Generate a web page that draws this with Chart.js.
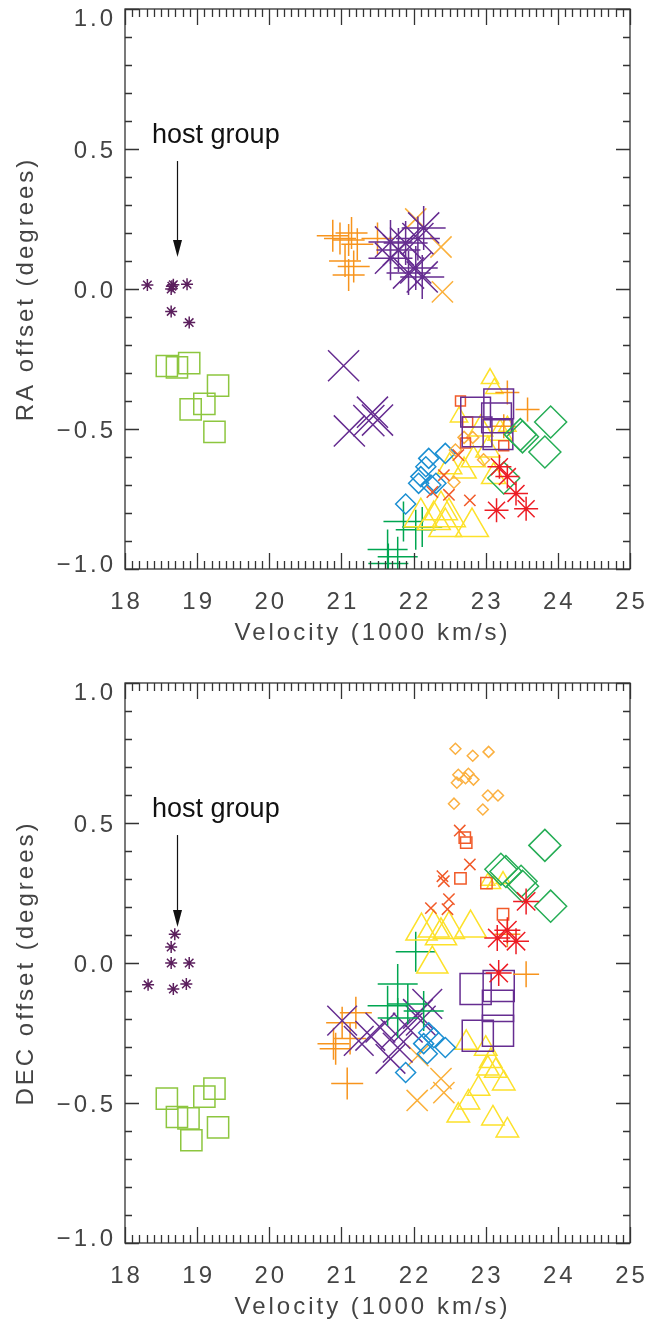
<!DOCTYPE html>
<html>
<head>
<meta charset="utf-8">
<script src="https://cdn.jsdelivr.net/npm/chart.js@4.4.1/dist/chart.umd.min.js"></script>
<style>
  body { margin: 0; background: #fff; }
  canvas { position: absolute; left: 0; }
  #raChart { top: 0; }
  #decChart { top: 674px; }
</style>
</head>
<body>
<canvas id="raChart" width="649" height="674"></canvas>
<canvas id="decChart" width="649" height="645"></canvas>
<script>
// velocities in 1000 km/s, offsets in degrees

// --- RA panel ---
const raHostStarVel = [18.31, 18.65, 18.67, 18.64, 18.86, 18.64, 18.89];
const raHostStarOff = [0.014, 0.01, 0.015, 0.0, 0.017, -0.08, -0.12];
const raHostSqVel = [18.58, 18.72, 18.89, 19.29, 19.10, 18.91, 19.24];
const raHostSqOff = [-0.275, -0.28, -0.265, -0.345, -0.41, -0.43, -0.51];
const raOrangePlusVel = [20.88, 20.98, 21.1, 21.14, 21.22, 21.05, 21.17, 21.1, 21.5];
const raOrangePlusOff = [0.19, 0.18, 0.175, 0.2, 0.16, 0.1, 0.08, 0.05, 0.18];
const raPurpleStarVel = [21.68, 21.79, 21.68, 21.89, 22.06, 22.14, 22.03, 21.93, 22.12];
const raPurpleStarOff = [0.168, 0.139, 0.11, 0.164, 0.18, 0.218, 0.075, 0.057, 0.043];
const raAmberXVel = [22.03, 22.38, 22.4];
const raAmberXOff = [0.25, 0.15, -0.01];
const raPurpleXVel = [21.03, 21.11, 21.43, 21.5, 21.38];
const raPurpleXOff = [-0.274, -0.507, -0.44, -0.468, -0.47];
const raPurpleSqVel = [22.86, 23.18, 23.15, 22.88, 23.17];
const raPurpleSqOff = [-0.44, -0.41, -0.46, -0.51, -0.52];
const raSmallSqVel = [22.65, 22.75, 22.72, 23.25];
const raSmallSqOff = [-0.4, -0.475, -0.55, -0.56];
const raRightPlusVel = [23.3, 23.58, 23.25];
const raRightPlusOff = [-0.37, -0.43, -0.49];
const raTriSmallVel = [23.06, 23.12, 22.63, 23.3];
const raTriSmallOff = [-0.32, -0.355, -0.457, -0.49];
const raTriMidVel = [22.93, 23.2, 22.83, 23.03, 23.11, 22.7, 22.5];
const raTriMidOff = [-0.5, -0.515, -0.61, -0.575, -0.67, -0.65, -0.635];
const raTriBigVel = [22.1, 22.28, 22.49, 22.38, 22.81, 22.44];
const raTriBigOff = [-0.815, -0.825, -0.815, -0.79, -0.85, -0.85];
const raBlueVel = [21.89, 22.1, 22.21, 22.44, 22.17, 22.24, 22.07, 22.31];
const raBlueOff = [-0.768, -0.67, -0.605, -0.587, -0.635, -0.7, -0.694, -0.694];
const raGreenPlusVel = [21.86, 22.03, 22.12, 21.64, 21.78, 21.65];
const raGreenPlusOff = [-0.83, -0.86, -0.85, -0.93, -0.956, -0.98];
const raGreenDiaVel = [23.9, 23.82, 23.51, 23.48, 23.25];
const raGreenDiaOff = [-0.475, -0.582, -0.528, -0.52, -0.675];
const raRedStarVel = [23.19, 23.3, 23.42, 23.15, 23.56];
const raRedStarOff = [-0.635, -0.67, -0.73, -0.79, -0.785];
const raSmallXVel = [22.42, 22.49, 22.78, 22.26, 22.62];
const raSmallXOff = [-0.665, -0.735, -0.755, -0.725, -0.593];
const raSmallDiaVel = [22.56, 22.82, 22.58, 22.97, 22.7];
const raSmallDiaOff = [-0.69, -0.53, -0.575, -0.61, -0.53];

// --- DEC panel ---
const decHostStarVel = [18.69, 18.64, 18.64, 18.89, 18.32, 18.67, 18.85];
const decHostStarOff = [0.103, 0.057, 0.0, 0.0, -0.078, -0.093, -0.075];
const decHostSqVel = [18.58, 18.72, 18.88, 19.1, 19.24, 18.92, 19.29];
const decHostSqOff = [-0.484, -0.55, -0.555, -0.477, -0.449, -0.633, -0.587];
const decSmallDiaVel = [22.58, 22.82, 23.04, 22.62, 22.76, 22.72, 22.83, 22.6, 23.03, 23.17, 22.56, 22.96];
const decSmallDiaOff = [0.765, 0.74, 0.754, 0.672, 0.676, 0.66, 0.655, 0.644, 0.598, 0.598, 0.569, 0.548];
const decSmallXVel = [22.64, 22.78, 22.4, 22.42, 22.49, 22.24, 22.47];
const decSmallXOff = [0.473, 0.352, 0.31, 0.292, 0.228, 0.196, 0.192];
const decSmallSqVel = [22.71, 22.73, 22.65, 23.01, 23.24];
const decSmallSqOff = [0.448, 0.43, 0.302, 0.285, 0.174];
const decGreenDiaVel = [23.82, 23.9, 23.21, 23.28, 23.49, 23.51];
const decGreenDiaOff = [0.42, 0.203, 0.335, 0.327, 0.292, 0.274];
const decTriSmallVel = [23.03, 23.11, 23.24];
const decTriSmallOff = [0.292, 0.28, 0.298];
const decTriBigVel = [22.11, 22.28, 22.49, 22.79, 22.38, 22.26];
const decTriBigOff = [0.114, 0.125, 0.12, 0.125, 0.097, -0.004];
const decRedStarVel = [23.56, 23.3, 23.16, 23.42, 23.18];
const decRedStarOff = [0.22, 0.117, 0.089, 0.078, -0.036];
const decRightPlusVel = [23.3, 23.56];
const decRightPlusOff = [0.103, -0.04];
const decPurpleSqVel = [22.86, 23.18, 23.17, 23.17, 22.89];
const decPurpleSqOff = [-0.093, -0.082, -0.153, -0.242, -0.26];
const decTriMidVel = [22.73, 23.0, 23.07, 23.14, 23.03, 23.25, 22.9, 22.76, 22.62, 23.1, 23.3];
const decTriMidOff = [-0.285, -0.306, -0.35, -0.385, -0.377, -0.43, -0.449, -0.498, -0.545, -0.555, -0.598];
const decAmberXVel = [22.05, 22.38, 22.42, 22.06];
const decAmberXOff = [-0.491, -0.413, -0.463, -0.331];
const decBlueVel = [21.89, 22.19, 22.44, 22.28, 22.14, 22.21];
const decBlueOff = [-0.391, -0.324, -0.302, -0.267, -0.288, -0.249];
const decGreenPlusVel = [21.78, 21.92, 22.14, 21.78, 21.64, 22.03];
const decGreenPlusOff = [-0.075, -0.146, -0.171, -0.196, -0.153, 0.04];
const decPurpleXVel = [21.01, 21.24, 21.4, 21.68, 21.78, 21.75, 22.06, 22.1, 21.92, 21.54, 22.19];
const decPurpleXOff = [-0.206, -0.278, -0.26, -0.342, -0.302, -0.253, -0.182, -0.206, -0.231, -0.231, -0.146];
const decOrangePlusVel = [21.01, 21.2, 20.89, 21.12, 21.08, 20.92];
const decOrangePlusOff = [-0.213, -0.178, -0.288, -0.27, -0.43, -0.306];

const xTicks = [18, 19, 20, 21, 22, 23, 24, 25];
const yTicks = [-1.0, -0.5, 0.0, 0.5, 1.0];

const col = {
  hostPurple: '#5b1f5d', hostGreen: '#8dc63f', orange: '#f7941d', purple: '#662d91',
  amber: '#fbb03b', yellow: '#fde12a', blue: '#1b8fd2', green: '#00a651',
  green2: '#25ad55', red: '#ed1c24', vermilion: '#f15a29', gold: '#fbb040'
};

function series(vel, off, style, color, radius) {
  return {
    data: vel.map((v, i) => ({ x: v, y: off[i] })),
    pointStyle: style,
    pointRadius: radius,
    pointHoverRadius: radius,
    pointBorderColor: color,
    pointBackgroundColor: 'rgba(0,0,0,0)',
    pointBorderWidth: 1.5,
    showLine: false
  };
}

function fmt(v) {
  return (v < 0 ? '\u2212' : '') + Math.abs(v).toFixed(1);
}

// box, inward ticks, labels and the host group arrow
const frame = {
  id: 'frame',
  afterDraw(chart, args, opts) {
    const { ctx, chartArea: a, scales: { x, y } } = chart;
    ctx.save();
    ctx.strokeStyle = '#333';
    ctx.lineWidth = 1.3;
    ctx.strokeRect(a.left, a.top, a.right - a.left, a.bottom - a.top);
    ctx.beginPath();
    for (let i = 0; i <= 70; i++) {
      const px = Math.round(x.getPixelForValue(18 + i / 10)) + 0.5;
      const len = i % 10 === 0 ? 16 : 8;
      ctx.moveTo(px, a.bottom); ctx.lineTo(px, a.bottom - len);
      ctx.moveTo(px, a.top); ctx.lineTo(px, a.top + len);
    }
    for (let i = 0; i <= 20; i++) {
      const py = Math.round(y.getPixelForValue(-1 + i / 10)) + 0.5;
      const len = i % 5 === 0 ? 14 : 7;
      ctx.moveTo(a.left, py); ctx.lineTo(a.left + len, py);
      ctx.moveTo(a.right, py); ctx.lineTo(a.right - len, py);
    }
    ctx.stroke();

    ctx.fillStyle = '#444';
    ctx.font = '24px "Liberation Sans", Arial, sans-serif';
    ctx.letterSpacing = '3px';
    ctx.textBaseline = 'alphabetic';
    ctx.textAlign = 'center';
    xTicks.forEach(v => {
      ctx.fillText(String(v), x.getPixelForValue(v) + 1.5, a.bottom + 40);
    });
    ctx.textAlign = 'right';
    yTicks.forEach(v => {
      let py = y.getPixelForValue(v) + 8.5;
      if (v === 1) py += 8;
      if (v === -1) py -= 6;
      ctx.fillText(fmt(v), 116, py);
    });
    ctx.textAlign = 'center';
    ctx.fillText('Velocity (1000 km/s)', (a.left + a.right) / 2 - 5, a.bottom + opts.titleGap);
    ctx.save();
    ctx.translate(33, (a.top + a.bottom) / 2);
    ctx.rotate(-Math.PI / 2);
    ctx.fillText(opts.yTitle, 0, 0);
    ctx.restore();

    // host group label and arrow
    ctx.letterSpacing = '0px';
    ctx.fillStyle = '#111';
    ctx.font = '27px "Liberation Sans", Arial, sans-serif';
    ctx.textAlign = 'left';
    ctx.fillText('host group', x.getPixelForValue(18.375), y.getPixelForValue(0.52));
    const ax = Math.round(x.getPixelForValue(18.72)) + 0.5;
    const y0 = y.getPixelForValue(0.457);
    const y1 = y.getPixelForValue(opts.tip);
    ctx.strokeStyle = '#111';
    ctx.lineWidth = 1.2;
    ctx.beginPath();
    ctx.moveTo(ax, y0); ctx.lineTo(ax, y1 - 10);
    ctx.stroke();
    ctx.beginPath();
    ctx.moveTo(ax, y1);
    ctx.lineTo(ax - 4.5, y1 - 17);
    ctx.lineTo(ax + 4.5, y1 - 17);
    ctx.closePath();
    ctx.fill();
    ctx.restore();
  }
};

function makeChart(id, datasets, pad, yTitle, tip, titleGap) {
  return new Chart(document.getElementById(id), {
    type: 'scatter',
    data: { datasets: datasets },
    options: {
      responsive: false,
      animation: false,
      layout: { padding: pad, autoPadding: false },
      plugins: {
        legend: { display: false },
        tooltip: { enabled: false },
        frame: { yTitle: yTitle, tip: tip, titleGap: titleGap }
      },
      scales: {
        x: { type: 'linear', min: 18, max: 25, display: false },
        y: { type: 'linear', min: -1, max: 1, display: false }
      }
    },
    plugins: [frame]
  });
}

makeChart('raChart', [
  series(raHostStarVel, raHostStarOff, 'star', col.hostPurple, 6),
  series(raRedStarVel, raRedStarOff, 'star', col.red, 12),
  series(raGreenDiaVel, raGreenDiaOff, 'rectRot', col.green2, 16),
  series(raPurpleSqVel, raPurpleSqOff, 'rect', col.purple, 21),
  series(raSmallSqVel, raSmallSqOff, 'rect', col.vermilion, 7),
  series(raSmallXVel, raSmallXOff, 'crossRot', col.vermilion, 8),
  series(raSmallDiaVel, raSmallDiaOff, 'rectRot', col.gold, 6),
  series(raRightPlusVel, raRightPlusOff, 'cross', col.orange, 12),
  series(raBlueVel, raBlueOff, 'rectRot', col.blue, 10),
  series(raTriSmallVel, raTriSmallOff, 'triangle', col.yellow, 10),
  series(raTriMidVel, raTriMidOff, 'triangle', col.yellow, 14),
  series(raTriBigVel, raTriBigOff, 'triangle', col.yellow, 19),
  series(raGreenPlusVel, raGreenPlusOff, 'cross', col.green, 20),
  series(raPurpleXVel, raPurpleXOff, 'crossRot', col.purple, 22),
  series(raPurpleStarVel, raPurpleStarOff, 'star', col.purple, 22),
  series(raAmberXVel, raAmberXOff, 'crossRot', col.amber, 15),
  series(raOrangePlusVel, raOrangePlusOff, 'cross', col.orange, 16),
  series(raHostSqVel, raHostSqOff, 'rect', col.hostGreen, 15)
], { left: 125, right: 19, top: 9, bottom: 105 }, 'RA offset (degrees)', 0.114, 71);

makeChart('decChart', [
  series(decHostStarVel, decHostStarOff, 'star', col.hostPurple, 6),
  series(decRedStarVel, decRedStarOff, 'star', col.red, 13),
  series(decGreenDiaVel, decGreenDiaOff, 'rectRot', col.green2, 16),
  series(decSmallSqVel, decSmallSqOff, 'rect', col.vermilion, 8),
  series(decSmallXVel, decSmallXOff, 'crossRot', col.vermilion, 8),
  series(decSmallDiaVel, decSmallDiaOff, 'rectRot', col.gold, 5.5),
  series(decRightPlusVel, decRightPlusOff, 'cross', col.orange, 13),
  series(decPurpleSqVel, decPurpleSqOff, 'rect', col.purple, 22),
  series(decBlueVel, decBlueOff, 'rectRot', col.blue, 10),
  series(decTriSmallVel, decTriSmallOff, 'triangle', col.yellow, 8),
  series(decTriMidVel, decTriMidOff, 'triangle', col.yellow, 13),
  series(decTriBigVel, decTriBigOff, 'triangle', col.yellow, 18),
  series(decGreenPlusVel, decGreenPlusOff, 'cross', col.green, 20),
  series(decPurpleXVel, decPurpleXOff, 'crossRot', col.purple, 21),
  series(decAmberXVel, decAmberXOff, 'crossRot', col.amber, 15),
  series(decOrangePlusVel, decOrangePlusOff, 'cross', col.orange, 16),
  series(decHostSqVel, decHostSqOff, 'rect', col.hostGreen, 15)
], { left: 125, right: 19, top: 9, bottom: 76 }, 'DEC offset (degrees)', 0.129, 71);
</script>
</body>
</html>
